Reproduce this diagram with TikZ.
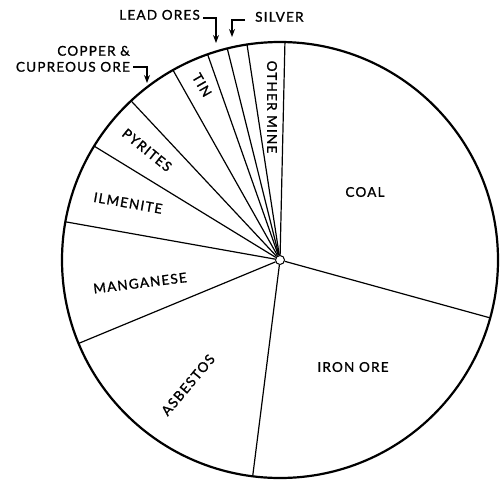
\documentclass[tikz,border=0pt]{standalone}
\usepackage{fontspec}
\setmainfont{Lato}[LetterSpace=9, FakeBold=1.2]
\usetikzlibrary{arrows.meta,calc}
\begin{document}
\begin{tikzpicture}[x=1pt,y=1pt,
  rim/.style={line width=2.2pt},
  spoke/.style={line width=1.2pt},
  lab/.style={font=\fontsize{13.5}{16}\selectfont, inner sep=0pt},
  leader/.style={line width=1.2pt, -{Stealth[length=8pt,width=6pt]}}]
\useasboundingbox (0,0) rectangle (500,-480);
\coordinate (c) at (280,-260);
\def\R{218}
% boundary points on the rim
\foreach \i/\a in {1/88.7, 2/-15.4, 3/262.8, 4/202.5, 5/169.9, 6/148.5, 7/133.1, 8/119.4, 9/109.4, 10/104, 11/98.7}
  {\coordinate (b\i) at ($(c)+(\a:\R)$);}
\draw[rim] (c) circle[radius=\R];
\node[circle, draw, fill=white, line width=1pt, minimum size=9pt, inner sep=0pt] (hub) at (c) {};
\foreach \i in {1,...,11} \draw[spoke] (hub) -- (b\i);
% sector labels
\node[lab] (coal) at (365,-192) {COAL};
\node[lab] (iron) at (353,-367) {IRON ORE};
\node[lab, rotate=50] (asb) at (188,-385) {ASBESTOS};
\node[lab, rotate=7] (mang) at (140,-283) {MANGANESE};
\node[lab, rotate=-10] (ilm) at (128,-203) {ILMENITE};
\node[lab, rotate=-39] (pyr) at (147,-150) {PYRITES};
\node[lab, rotate=-60] (tin) at (202,-85) {TIN};
\node[lab, rotate=-90] (oth) at (272,-107) {OTHER MINE};
% outside labels with leaders
\coordinate (tLead) at (216,-43);
\coordinate (tSilver) at (232,-37);
\coordinate (tCu) at (147,-83);
\node[lab, anchor=south east] (lead) at (200,-20) {LEAD ORES};
\node[lab, anchor=south west] (silver) at (255,-22) {SILVER};
\node[lab, anchor=south east, align=right] (cu) at (130,-72) {COPPER \&\\CUPREOUS ORE};
\draw[leader] ([xshift=3pt,yshift=2pt]lead.south east) -| (tLead);
\draw[leader] ([xshift=-10pt,yshift=2pt]silver.south west) -| (tSilver);
\draw[leader] ([xshift=3pt,yshift=5pt]cu.south east) -| (tCu);
\end{tikzpicture}
\end{document}
